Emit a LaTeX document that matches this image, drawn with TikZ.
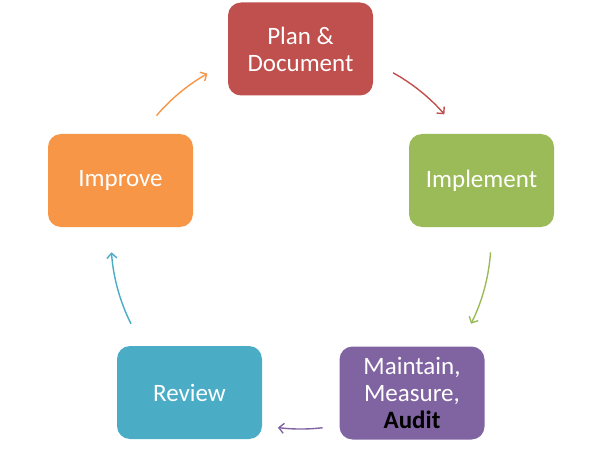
\documentclass[tikz,border=0pt]{standalone}
\usepackage{fontspec}
\setmainfont{Carlito}
\usetikzlibrary{arrows.meta,calc}
\definecolor{cred}{HTML}{C0504D}
\definecolor{cgreen}{HTML}{9BBB59}
\definecolor{cpurple}{HTML}{8064A2}
\definecolor{cblue}{HTML}{4BACC6}
\definecolor{corange}{HTML}{F79646}
\tikzset{
  stagebox/.style={rounded corners=13pt, minimum width=145pt, minimum height=93pt,
    align=center, text=white, inner sep=0pt,
    font=\fontsize{25}{27}\selectfont},
  cyclearrow/.style={line width=1.4pt, -{Straight Barb[length=5pt,width=10pt]}}
}
\begin{document}
\begin{tikzpicture}[x=1pt,y=1pt]
\useasboundingbox (0,0) rectangle (600,448);
\node[stagebox, fill=cred] (plan) at (300.5,399) {Plan \&\\Document};
\node[stagebox, fill=cgreen] (impl) at (481.5,267.5) {Implement};
\node[stagebox, fill=cpurple] (maint) at (412,55) {Maintain,\\Measure,\\\textcolor{black}{\textbf{Audit}}};
\node[stagebox, fill=cblue] (rev) at (189.5,55.5) {Review};
\node[stagebox, fill=corange] (impr) at (120.5,267.5) {Improve};
\coordinate (C) at (301,209);
\coordinate (a1) at ($(C)+(61:190)$);
\coordinate (a2) at ($(C)+(-4:190)$);
\coordinate (a3) at ($(C)+(-83.5:190)$);
\coordinate (a4) at ($(C)+(-153.5:190)$);
\coordinate (a5) at ($(C)+(139.5:190)$);
\draw[cyclearrow, cred] (a1) arc[start angle=61, end angle=41, radius=190];
\draw[cyclearrow, cgreen] (a2) arc[start angle=-4, end angle=-26.5, radius=190];
\draw[cyclearrow, cpurple] (a3) arc[start angle=-83.5, end angle=-97, radius=190];
\draw[cyclearrow, cblue] (a4) arc[start angle=-153.5, end angle=-176, radius=190];
\draw[cyclearrow, corange] (a5) arc[start angle=139.5, end angle=119.5, radius=190];
\end{tikzpicture}
\end{document}
